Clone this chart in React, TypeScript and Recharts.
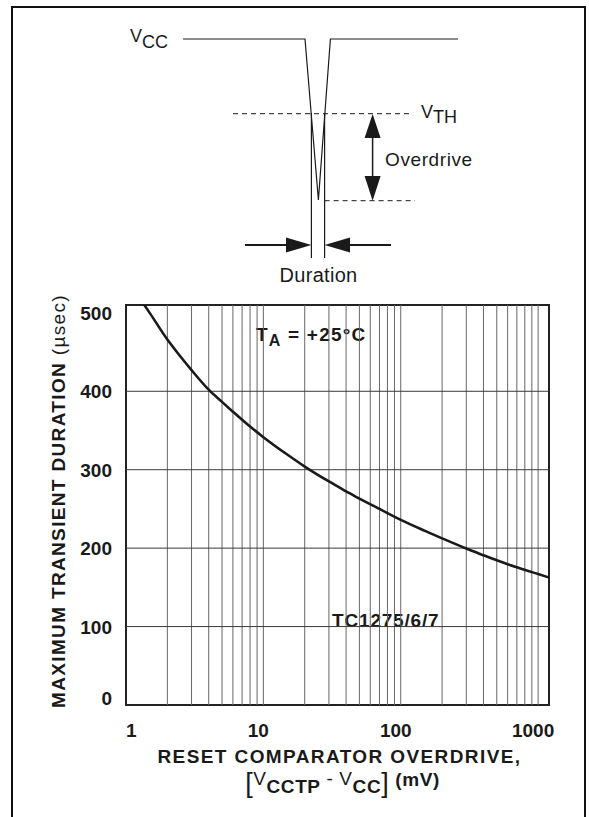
import React from "react";
import { LineChart, Line, XAxis, YAxis, ReferenceLine, ReferenceArea } from "recharts";

// overdrive (mV) vs max transient duration (usec)
const overdrive = [1.36, 1.5, 2, 2.5, 3, 4, 5, 6, 8, 10, 15, 20, 30, 40, 50, 70, 100, 150, 200, 300, 400, 500, 700, 1000, 1200];
const duration = [510, 499, 466, 444, 427, 402, 386.5, 374, 355, 341.5, 319, 304, 285, 272.5, 263, 250, 236, 222, 212.5, 199.5, 191, 184.5, 175.5, 167, 162.5];

const X_TICKS = [1, 10, 100, 1000];
const Y_TICKS = [0, 100, 200, 300, 400, 500];
const GRID_X = [2, 3, 4, 5, 6, 7, 8, 9, 10, 20, 30, 40, 50, 60, 70, 80, 90, 100, 200, 300, 400, 500, 600, 700, 800, 900, 1000];
const GRID_Y = [100, 200, 300, 400];

const FONT = '"Liberation Sans", Arial, Helvetica, sans-serif';
const INK = "#1a1a1a";

const data = overdrive.map((x, i) => ({ x, duration: duration[i] }));

function XTick({ x, y, payload }: any) {
  const first = payload.value === 1;
  return (
    <text x={first ? x : x - 5} y={y + 32} textAnchor={first ? "start" : "middle"}
      fontFamily={FONT} fontSize={19} fontWeight="bold" fill={INK}>
      {payload.value}
    </text>
  );
}

function YTick({ x, y, payload }: any) {
  const lift = payload.value === 0 ? 7 : 0;
  return (
    <text x={x - 14} y={y + 7 - lift} textAnchor="end"
      fontFamily={FONT} fontSize={19} fontWeight="bold" fill={INK}>
      {payload.value}
    </text>
  );
}

function XTitle({ viewBox }: any) {
  const vb = viewBox ?? { x: 126, y: 705, width: 423 };
  const cx = vb.x + vb.width / 2 + 2;
  return (
    <g fontFamily={FONT} fill={INK}>
      <text x={cx} y={vb.y + 58} textAnchor="middle" fontSize={19} fontWeight="bold" letterSpacing={1.4}>
        RESET COMPARATOR OVERDRIVE,
      </text>
      <text x={cx + 3} y={vb.y + 80} textAnchor="middle" fontSize={19} letterSpacing={0.6}>
        <tspan fontSize={27} dy={7}>[</tspan>
        <tspan dy={-7}>V</tspan>
        <tspan fontWeight="bold" dy={8}>CCTP</tspan>
        <tspan dy={-8}> - V</tspan>
        <tspan fontWeight="bold" dy={8}>CC</tspan>
        <tspan fontSize={27} dy={-1}>]</tspan>
        <tspan fontWeight="bold" dy={-6}> (mV)</tspan>
      </text>
    </g>
  );
}

function YTitle() {
  return (
    <text transform="translate(65,501) rotate(-90)" textAnchor="middle"
      fontFamily={FONT} fontSize={19} fontWeight="bold" fill={INK} letterSpacing={1.35}>
      MAXIMUM TRANSIENT DURATION <tspan fontWeight="normal">(µsec)</tspan>
    </text>
  );
}

function TaLabel({ viewBox }: any) {
  const vb = viewBox ?? { x: 247, y: 318 };
  return (
    <text x={vb.x + 9} y={vb.y + 23} fontFamily={FONT} fontSize={19} fontWeight="bold" fill={INK} letterSpacing={1.2}>
      T<tspan fontSize={16} dy={5}>A</tspan><tspan dy={-5}> = +25°C</tspan>
    </text>
  );
}

function TcLabel({ viewBox }: any) {
  const vb = viewBox ?? { x: 313, y: 600, width: 147 };
  return (
    <text x={vb.x + vb.width / 2} y={vb.y + 27} textAnchor="middle" fontFamily={FONT}
      fontSize={19} fontWeight="bold" fill={INK} letterSpacing={0.8}>
      TC1275/6/7
    </text>
  );
}

// the transient sketch above the graph
function Sketch() {
  return (
    <svg width={589} height={817} style={{ position: "absolute", left: 0, top: 0, pointerEvents: "none" }}
      fontFamily={FONT} fill={INK}>
      <path d="M12,817 V7 H585 V817" fill="none" stroke="#111" strokeWidth={2} />
      <text x={130} y={42} fontSize={18}>V<tspan dy={6}>CC</tspan></text>
      <polyline points="183,39 305,39 318.4,200 330.4,39 458,39" fill="none" stroke={INK} strokeWidth={1.2} />
      <line x1={311.4} y1={113} x2={311.4} y2={258} stroke={INK} strokeWidth={1.2} />
      <line x1={324.6} y1={113} x2={324.6} y2={258} stroke={INK} strokeWidth={1.2} />
      <line x1={233} y1={113.7} x2={410} y2={113.7} stroke={INK} strokeWidth={1} strokeDasharray="5 4" />
      <line x1={324.6} y1={200.7} x2={415} y2={200.7} stroke={INK} strokeWidth={1} strokeDasharray="5 4" />
      <text x={421} y={118} fontSize={18}>V<tspan dy={5}>TH</tspan></text>
      <line x1={372.6} y1={125} x2={372.6} y2={190} stroke={INK} strokeWidth={1.5} />
      <polygon points="372.6,114 364.6,138 380.6,138" fill={INK} />
      <polygon points="372.6,200.7 364.6,176 380.6,176" fill={INK} />
      <text x={385} y={165.5} fontSize={19} letterSpacing={0.6}>Overdrive</text>
      <line x1={245} y1={245} x2={290} y2={245} stroke={INK} strokeWidth={2} />
      <polygon points="311.4,245 286,237.5 286,252.5" fill={INK} />
      <polygon points="324.6,245 350,237.5 350,252.5" fill={INK} />
      <line x1={348} y1={245} x2={391} y2={245} stroke={INK} strokeWidth={2} />
      <text x={318.5} y={281.5} fontSize={20} textAnchor="middle" letterSpacing={0.3}>Duration</text>
    </svg>
  );
}

export default function App() {
  return (
    <div style={{ position: "absolute", left: 0, top: 0, width: 589, height: 817, background: "#fff" }}>
      <LineChart width={589} height={817} data={data} margin={{ top: 305, right: 40, bottom: 0, left: 30 }}>
        <XAxis dataKey="x" type="number" scale="log" domain={[1, 1200]} ticks={X_TICKS} allowDataOverflow
          axisLine={false} tickLine={false} tickSize={0} tickMargin={0} interval={0} height={112}
          tick={<XTick />} label={<XTitle />} />
        <YAxis type="number" domain={[0, 510]} ticks={Y_TICKS} allowDataOverflow
          axisLine={false} tickLine={false} tickSize={0} tickMargin={0} interval={0} width={96}
          tick={<YTick />} label={<YTitle />} />
        {GRID_X.map((v) => (
          <ReferenceLine key={"gx" + v} x={v} stroke="#666" strokeWidth={1} />
        ))}
        {GRID_Y.map((v) => (
          <ReferenceLine key={"gy" + v} y={v} stroke="#3a3a3a" strokeWidth={1} />
        ))}
        <ReferenceArea x1={7.6} x2={63} y1={452.6} y2={493.4} fill="#fff" fillOpacity={1} stroke="none" label={<TaLabel />} />
        <ReferenceArea x1={23} x2={263} y1={95.6} y2={133.9} fill="#fff" fillOpacity={1} stroke="none" label={<TcLabel />} />
        <ReferenceArea x1={1} x2={1200} y1={0} y2={510} fill="none" stroke="#222" strokeWidth={2} />
        <Line type="monotone" dataKey="duration" stroke={INK} strokeWidth={2.6} dot={false} isAnimationActive={false} />
      </LineChart>
      <Sketch />
    </div>
  );
}
